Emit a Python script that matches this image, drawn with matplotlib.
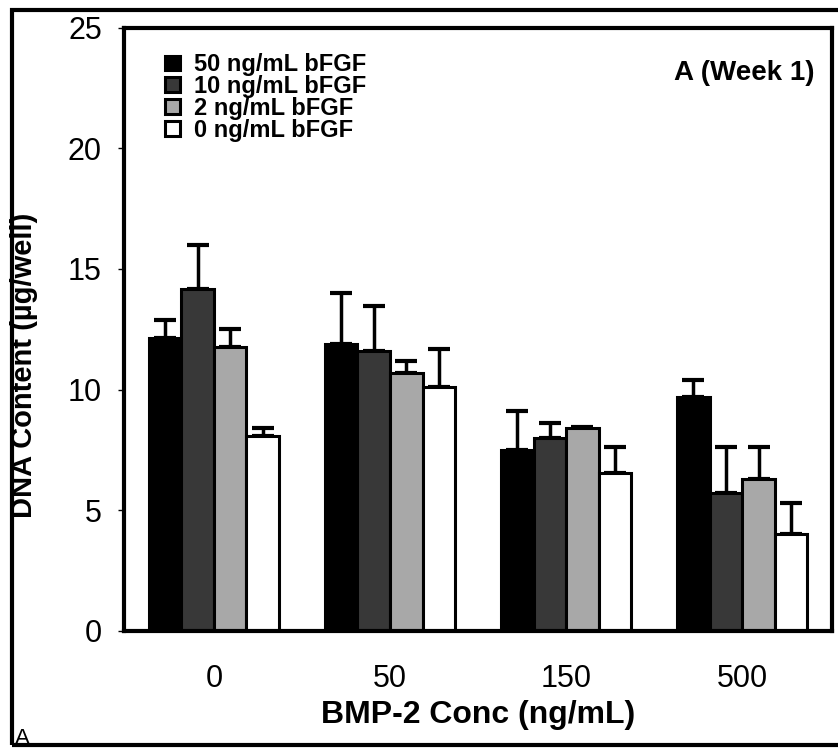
import numpy as np
import matplotlib.pyplot as plt
from matplotlib.patches import Rectangle

plt.rcParams['font.family'] = ['Liberation Sans', 'DejaVu Sans']

# DNA content at week 1, grouped by BMP-2 concentration
bmp_conc = ['0', '50', '150', '500']
series = ['50 ng/mL bFGF', '10 ng/mL bFGF', '2 ng/mL bFGF', '0 ng/mL bFGF']
dna_50 = [12.15, 11.9, 7.5, 9.7]
dna_10 = [14.15, 11.6, 8.0, 5.7]
dna_2 = [11.75, 10.7, 8.4, 6.3]
dna_0 = [8.07, 10.1, 6.55, 4.0]
err_50 = [0.75, 2.1, 1.6, 0.7]
err_10 = [1.85, 1.85, 0.6, 1.9]
err_2 = [0.75, 0.5, 0.05, 1.3]
err_0 = [0.33, 1.6, 1.05, 1.3]

means = [dna_50, dna_10, dna_2, dna_0]
errs = [err_50, err_10, err_2, err_0]
colors = ['#000000', '#383838', '#a8a8a8', '#ffffff']

fig = plt.figure(figsize=(8.38, 7.5), dpi=100)
ax = fig.add_axes([0.148, 0.159, 0.845, 0.804])

x = np.arange(len(bmp_conc))
w = 0.185
for i in range(4):
    pos = x + (i - 1.5) * w
    ax.bar(pos, means[i], w, color=colors[i], edgecolor='black', linewidth=2.2,
           label=series[i], zorder=2)
    ax.errorbar(pos, means[i], yerr=[np.zeros(4), errs[i]], fmt='none',
                ecolor='black', elinewidth=2.5, capsize=8, capthick=3, zorder=1)

ax.set_xlim(-0.51, 3.51)
ax.set_ylim(0, 25)
ax.set_yticks([0, 5, 10, 15, 20, 25])
ax.set_xticks(x)
ax.set_xticklabels(bmp_conc)
ax.tick_params(axis='y', labelsize=22, length=4, width=1, pad=12)
ax.tick_params(axis='x', labelsize=22, length=0, pad=24)
for s in ax.spines.values():
    s.set_linewidth(3)

ax.set_xlabel('BMP-2 Conc (ng/mL)', fontsize=23, fontweight='bold', labelpad=4)
ax.set_ylabel('DNA Content (µg/well)', fontsize=21, fontweight='bold')
ax.yaxis.set_label_coords(-0.121, 0.44)

ax.text(0.975, 0.925, 'A (Week 1)', transform=ax.transAxes, ha='right',
        va='center', fontsize=20, fontweight='bold')

ax.legend(loc='upper left', bbox_to_anchor=(0.035, 0.985), frameon=False,
          prop={'weight': 'bold', 'size': 17}, labelspacing=-0.05,
          handlelength=0.6, handleheight=0.6, handletextpad=0.6,
          borderpad=0.2)

# outer frame around the whole panel
fig.patches.append(Rectangle((0.014, 0.007), 0.995, 0.98, transform=fig.transFigure,
                             fill=False, edgecolor='black', linewidth=3))
fig.text(0.018, 0.008, 'A', fontsize=16)

plt.savefig('out.png', dpi=100)
